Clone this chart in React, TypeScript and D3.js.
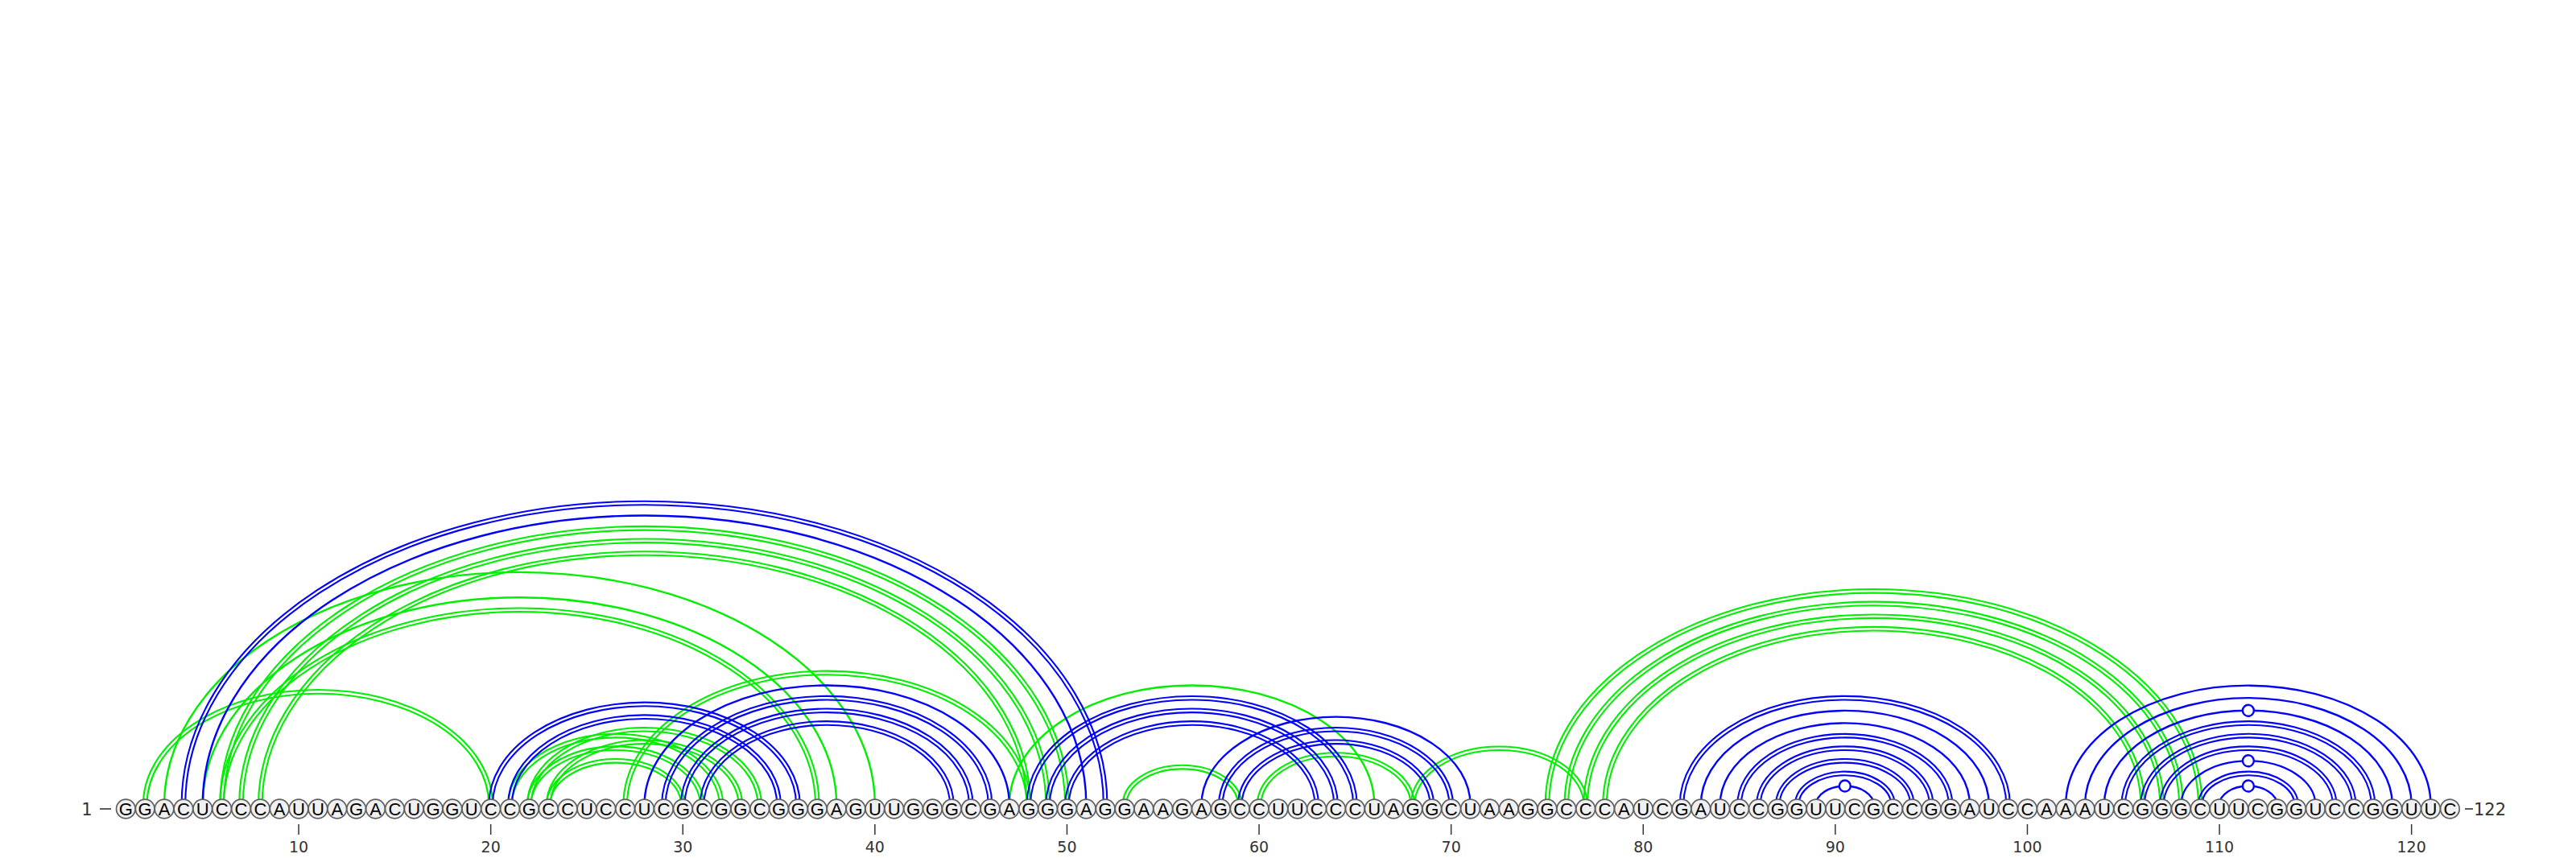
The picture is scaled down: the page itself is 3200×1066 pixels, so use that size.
import * as d3 from 'd3';
import { useEffect, useRef } from 'react';

// sequence, 122 nt
const sequence = (
    "GGACUCCCAU" + "UAGACUGGUC" + "CGCCUCCUCG" + "CGGCGGGAGU" +
    "UGGGCGAGGG" + "AGGAAGAGCC" + "UUCCCUAGGC" + "UAAGGCCCAU" +
    "CGAUCCGGUU" + "CGCCGGAUCC" + "AAAUCGGGCU" + "UCGGUCCGGU" + "UC"
).split("");

// base pairs of structure drawn in blue
const bluePairs: number[][] = [
    [4, 52], [5, 51], [20, 36], [21, 35], [28, 47], [29, 46], [30, 45], [31, 44],
    [48, 65], [49, 64], [50, 63], [57, 71], [58, 70], [59, 69],
    [82, 99], [83, 98], [84, 97], [85, 96], [86, 95], [87, 94], [88, 93], [89, 92],
    [102, 121], [103, 120], [104, 119], [105, 118], [106, 117], [107, 116], [108, 115], [109, 114], [110, 113],
];

// base pairs drawn in green
const greenPairs: number[][] = [
    [2, 20], [3, 40], [5, 38], [6, 37], [6, 50], [7, 49], [8, 48],
    [21, 32], [22, 31], [22, 34], [23, 30], [23, 33], [27, 48],
    [47, 66], [53, 59], [60, 68], [68, 77],
    [75, 109], [76, 108], [77, 107], [78, 106],
];

const tickLabels = [10, 20, 30, 40, 50, 60, 70, 80, 90, 100, 110, 120];

const App = () => {
    const ref = useRef<SVGSVGElement>(null);
    useEffect(() => {
        DrawChart();
    }, []);
    const DrawChart = () => {
        var width = 3200, height = 1066;
        var baseY = 1005, arcY = 1000, ratio = 0.655;
        var svg = d3.select(ref.current);
        svg.selectAll("*").remove();
        svg.attr("width", width).attr("height", height).style("background-color", "#fff");

        var x = d3.scaleLinear().domain([1, sequence.length]).range([156.3, 3043.4]);

        const kind = (i: number, j: number) => {
            var p = sequence[i - 1] + sequence[j - 1];
            if (p === "GC" || p === "CG") return "double";
            if (p === "GU" || p === "UG") return "wobble";
            return "single";
        };
        const arcPath = (cx: number, rx: number, ry: number) =>
            "M" + (cx - rx) + "," + arcY + " A" + rx + "," + ry + " 0 0 1 " + (cx + rx) + "," + arcY;

        const drawPairs = (pairs: number[][], color: string) => {
            var g = svg.append("g").attr("fill", "none").attr("stroke", color);
            pairs.forEach(function (d) {
                var cx = (x(d[0]) + x(d[1])) / 2;
                var rx = (x(d[1]) - x(d[0])) / 2;
                var ry = rx * ratio;
                var k = kind(d[0], d[1]);
                if (k === "double") {
                    [-2.3, 2.3].forEach(function (o) {
                        g.append("path").attr("d", arcPath(cx, rx + o, ry + o)).attr("stroke-width", 2.1);
                    });
                } else {
                    g.append("path").attr("d", arcPath(cx, rx, ry)).attr("stroke-width", 2.4);
                    if (k === "wobble") {
                        g.append("circle")
                            .attr("cx", cx).attr("cy", arcY - ry).attr("r", 7)
                            .attr("fill", "#fff").attr("stroke-width", 2.4);
                    }
                }
            });
        };
        drawPairs(greenPairs, "#00ee00");
        drawPairs(bluePairs, "#0000ff");

        // nucleotides
        var nt = svg.append("g").selectAll("g")
            .data(sequence)
            .enter().append("g")
            .attr("transform", function (d: any, i: number) { return "translate(" + x(i + 1) + "," + baseY + ")"; });
        nt.append("circle")
            .attr("r", 11.8)
            .attr("fill", "#f0f0f0")
            .attr("stroke", "#606060")
            .attr("stroke-width", 1.7);
        nt.append("text")
            .attr("text-anchor", "middle")
            .attr("dy", "0.37em")
            .style("font-family", "Liberation Sans, Arial, sans-serif")
            .style("font-size", "22px")
            .attr("fill", "#000")
            .text(function (d: any) { return d; });

        // ends
        svg.append("text").attr("x", 108).attr("y", baseY).attr("dy", "0.36em")
            .attr("text-anchor", "middle")
            .style("font-family", "DejaVu Sans, sans-serif").style("font-size", "21px")
            .attr("fill", "#333").text("1");
        svg.append("line").attr("x1", 124).attr("x2", 138).attr("y1", baseY).attr("y2", baseY)
            .attr("stroke", "#333").attr("stroke-width", 1.6);
        svg.append("line").attr("x1", 3062).attr("x2", 3072).attr("y1", baseY).attr("y2", baseY)
            .attr("stroke", "#333").attr("stroke-width", 1.6);
        svg.append("text").attr("x", 3073).attr("y", baseY).attr("dy", "0.36em")
            .style("font-family", "DejaVu Sans, sans-serif").style("font-size", "21px")
            .attr("fill", "#333").text("122");

        // position ticks
        var ticks = svg.append("g");
        ticks.selectAll("line").data(tickLabels).enter().append("line")
            .attr("x1", function (d: any) { return x(d); })
            .attr("x2", function (d: any) { return x(d); })
            .attr("y1", 1024).attr("y2", 1037)
            .attr("stroke", "#333").attr("stroke-width", 1.5);
        ticks.selectAll("text").data(tickLabels).enter().append("text")
            .attr("x", function (d: any) { return x(d); })
            .attr("y", 1059)
            .attr("text-anchor", "middle")
            .style("font-family", "DejaVu Sans, sans-serif").style("font-size", "19px")
            .attr("fill", "#333")
            .text(function (d: any) { return d; });
    };
    return (
        <svg ref={ref} style={{ position: "absolute", left: 0, top: 0 }}></svg>
    );
};
export default App;
